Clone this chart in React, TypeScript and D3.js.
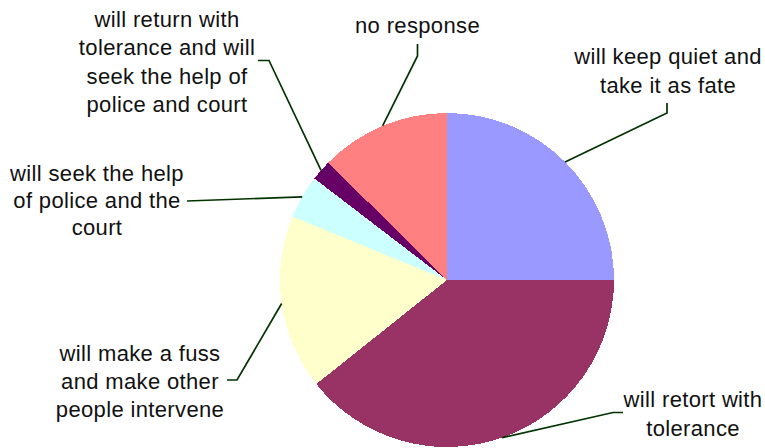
import React from "react";
import * as d3 from "d3";

const categories = [
  "will keep quiet and take it as fate",
  "will retort with tolerance",
  "will make a fuss and make other people intervene",
  "will seek the help of police and the court",
  "will return with tolerance and will seek the help of police and court",
  "no response",
];
const values = [25.0, 39.3, 16.9, 4.2, 2.0, 12.6];
const colors = ["#9999FF", "#993366", "#FFFFCC", "#CCFFFF", "#660066", "#FF8080"];

// label text lines (as wrapped in the reference)
const labelLines = [
  ["will keep quiet and", "take it as fate"],
  ["will retort with", "tolerance"],
  ["will make a fuss", "and make other", "people intervene"],
  ["will seek the help", "of police and the", "court"],
  ["will return with", "tolerance and will", "seek the help of", "police and court"],
  ["no response"],
];

// layout of labels: text centre x, first baseline y, line height, leader elbow and end
const labelLayout = [
  { x: 668, y: 64, lh: 29, elbow: [667, 113], end: [667, 103] },
  { x: 693, y: 407, lh: 28.5, elbow: [613, 412.5], end: [623, 412.5] },
  { x: 140, y: 361, lh: 28, elbow: [237, 380], end: [227, 380] },
  { x: 97, y: 181, lh: 27, elbow: null, end: [187, 201] },
  { x: 167, y: 27, lh: 28.3, elbow: [269, 60.5], end: [258, 60.5] },
  { x: 417.5, y: 33, lh: 28, elbow: [417.5, 56], end: [417.5, 44] },
];

const W = 765;
const H = 448;
const cx = 447;
const cy = 280;
const R = 167;

export default function App() {
  const pie = d3
    .pie<number>()
    .sort(null)
    .value((d) => d)
    .startAngle(0)
    .endAngle(2 * Math.PI);
  const arcs = pie(values);
  const arc = d3.arc<d3.PieArcDatum<number>>().innerRadius(0).outerRadius(R);
  const line = d3.line();

  return (
    <svg
      width={W}
      height={H}
      style={{ position: "absolute", left: 0, top: 0, background: "#fff" }}
      fontFamily="'Liberation Sans', Arial, sans-serif"
    >
      <g transform={`translate(${cx},${cy})`}>
        {arcs.map((a, i) => (
          <path key={categories[i]} d={arc(a) || ""} fill={colors[i]} shapeRendering="crispEdges" />
        ))}
      </g>
      {arcs.map((a, i) => {
        const mid = (a.startAngle + a.endAngle) / 2;
        const [px, py] = d3.pointRadial(mid, R);
        const lay = labelLayout[i];
        const pts: [number, number][] = [[cx + px, cy + py]];
        if (lay.elbow) pts.push(lay.elbow as [number, number]);
        pts.push(lay.end as [number, number]);
        return (
          <path
            key={"l" + i}
            d={line(pts) || ""}
            fill="none"
            stroke="#003300"
            strokeWidth={1.7}
          />
        );
      })}
      {labelLines.map((lines, i) => {
        const lay = labelLayout[i];
        return (
          <text key={"t" + i} textAnchor="middle" fontSize={22} letterSpacing={0.35} fill="#111">
            {lines.map((ln, j) => (
              <tspan key={j} x={lay.x} y={lay.y + j * lay.lh}>
                {ln}
              </tspan>
            ))}
          </text>
        );
      })}
    </svg>
  );
}
